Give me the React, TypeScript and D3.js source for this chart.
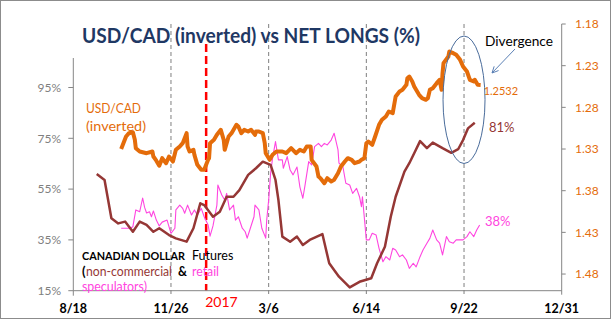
import React from "react";
import * as d3 from "d3";

const usdcadDates = [
  "2016-10-06","2016-10-11","2016-10-14","2016-10-18","2016-10-20","2016-10-21","2016-10-25","2016-11-01","2016-11-07","2016-11-08",
  "2016-11-11","2016-11-14","2016-11-17","2016-11-21","2016-11-24","2016-11-28","2016-12-01","2016-12-05","2016-12-08","2016-12-12",
  "2016-12-13","2016-12-15","2016-12-19","2016-12-20","2016-12-23","2016-12-27","2016-12-30","2017-01-03","2017-01-04","2017-01-05",
  "2017-01-09","2017-01-12","2017-01-16","2017-01-19","2017-01-20","2017-01-24","2017-01-27","2017-02-01","2017-02-03","2017-02-06",
  "2017-02-09","2017-02-13","2017-02-16","2017-02-20","2017-02-21","2017-02-24","2017-02-28","2017-03-02","2017-03-03","2017-03-07",
  "2017-03-10","2017-03-14","2017-03-20","2017-03-24","2017-03-29","2017-04-03","2017-04-07","2017-04-11","2017-04-14","2017-04-18",
  "2017-04-19","2017-04-24","2017-04-26","2017-04-28","2017-05-02","2017-05-05","2017-05-09","2017-05-12","2017-05-16","2017-05-19",
  "2017-05-23","2017-05-26","2017-05-30","2017-06-02","2017-06-07","2017-06-09","2017-06-12","2017-06-14","2017-06-16","2017-06-20",
  "2017-06-23","2017-06-27","2017-06-30","2017-07-04","2017-07-07","2017-07-11","2017-07-14","2017-07-18","2017-07-21","2017-07-25",
  "2017-07-26","2017-07-28","2017-07-31","2017-08-02","2017-08-07","2017-08-10","2017-08-14","2017-08-16","2017-08-18","2017-08-21",
  "2017-08-25","2017-08-28","2017-08-30","2017-08-31","2017-09-01","2017-09-06","2017-09-07","2017-09-11","2017-09-14","2017-09-18",
  "2017-09-21","2017-09-25","2017-09-28","2017-10-02","2017-10-03","2017-10-06","2017-10-09",
];
const usdcadValues = [
  1.330,1.315,1.311,1.310,1.319,1.329,1.333,1.335,1.333,1.339,
  1.344,1.350,1.341,1.347,1.339,1.345,1.331,1.327,1.323,1.311,
  1.327,1.333,1.331,1.337,1.349,1.355,1.355,1.343,1.341,1.323,
  1.319,1.313,1.307,1.319,1.331,1.315,1.311,1.301,1.303,1.311,
  1.307,1.309,1.307,1.313,1.309,1.309,1.311,1.323,1.335,1.343,
  1.337,1.333,1.333,1.335,1.329,1.335,1.331,1.333,1.327,1.327,
  1.343,1.351,1.363,1.365,1.371,1.365,1.369,1.367,1.359,1.351,
  1.345,1.341,1.343,1.347,1.345,1.343,1.341,1.323,1.321,1.325,
  1.315,1.301,1.295,1.291,1.285,1.287,1.267,1.261,1.259,1.253,
  1.245,1.243,1.249,1.255,1.265,1.269,1.271,1.269,1.259,1.257,
  1.251,1.247,1.259,1.239,1.227,1.219,1.213,1.215,1.217,1.223,
  1.231,1.237,1.247,1.249,1.247,1.253,1.2532,
];

const retailDates = [
  "2016-10-06","2016-10-11","2016-10-15","2016-10-18","2016-10-21","2016-10-25","2016-10-28","2016-10-30","2016-11-01","2016-11-04",
  "2016-11-06","2016-11-08","2016-11-11","2016-11-14","2016-11-17","2016-11-22","2016-11-26","2016-11-30","2016-12-01","2016-12-05",
  "2016-12-08","2016-12-10","2016-12-13","2016-12-17","2016-12-20","2016-12-23","2016-12-27","2016-12-30","2017-01-03","2017-01-05",
  "2017-01-08","2017-01-12","2017-01-13","2017-01-17","2017-01-20","2017-01-22","2017-01-25","2017-01-29","2017-01-31","2017-02-03",
  "2017-02-07","2017-02-10","2017-02-12","2017-02-15","2017-02-19","2017-02-20","2017-02-24","2017-02-27","2017-03-03","2017-03-04",
  "2017-03-06","2017-03-08","2017-03-10","2017-03-13","2017-03-16","2017-03-20","2017-03-21","2017-03-25","2017-03-28","2017-03-31",
  "2017-04-04","2017-04-07","2017-04-10","2017-04-12","2017-04-16","2017-04-19","2017-04-22","2017-04-26","2017-04-29","2017-05-02",
  "2017-05-05","2017-05-09","2017-05-12","2017-05-16","2017-05-17","2017-05-21","2017-05-24","2017-05-28","2017-05-31","2017-06-04",
  "2017-06-07","2017-06-09","2017-06-10","2017-06-14","2017-06-17","2017-06-20","2017-06-24","2017-06-27","2017-07-01","2017-07-04",
  "2017-07-08","2017-07-11","2017-07-14","2017-07-18","2017-07-21","2017-07-25","2017-07-28","2017-08-01","2017-08-04","2017-08-08",
  "2017-08-11","2017-08-15","2017-08-18","2017-08-21","2017-08-25","2017-08-28","2017-08-31","2017-09-04","2017-09-07","2017-09-11",
  "2017-09-14","2017-09-18","2017-09-21","2017-09-25","2017-09-28","2017-10-02","2017-10-05","2017-10-08",
];
const retailValues = [
  39.6,39.6,39.6,40.2,46.8,46.1,51.5,47.8,45.6,46.1,
  44.1,46.4,42.8,40.5,42.0,42.8,37.6,39.6,46.8,48.7,
  47.4,45.5,48.7,44.8,46.8,44.8,47.4,44.1,40.9,36.5,
  40.5,48.7,56.6,52.7,50.7,53.3,46.8,48.7,42.8,44.1,
  39.6,38.2,35.7,39.3,44.1,48.7,46.8,39.6,35.7,42.8,
  50.7,61.2,67.2,73.7,66.5,66.5,63.2,67.8,62.5,60.6,
  63.7,55.8,51.4,56.0,65.8,64.5,71.7,73.0,71.7,73.0,
  72.4,74.3,77.0,70.4,65.2,63.8,57.3,56.6,53.3,55.3,
  52.0,48.1,52.0,35.0,35.0,37.6,36.9,31.7,26.4,28.4,
  27.1,31.7,31.0,28.4,29.1,27.1,23.8,25.8,24.4,28.4,
  31.0,33.7,35.6,38.9,35.0,33.7,29.1,36.3,34.3,33.7,
  35.0,35.0,35.0,36.3,38.2,36.3,38.9,40.9,
];

const nonCommDates = [
  "2016-09-11","2016-09-19","2016-09-26","2016-10-03","2016-10-10","2016-10-18","2016-10-25","2016-11-01","2016-11-08","2016-11-14",
  "2016-11-24","2016-12-01","2016-12-12","2016-12-19","2016-12-26","2016-12-30","2017-01-08","2017-01-15","2017-01-22","2017-01-29",
  "2017-02-04","2017-02-13","2017-02-21","2017-02-28","2017-03-08","2017-03-13","2017-03-16","2017-03-20","2017-03-28","2017-04-04",
  "2017-04-10","2017-04-17","2017-04-30","2017-05-07","2017-05-17","2017-05-28","2017-06-07","2017-06-19","2017-06-25","2017-07-03",
  "2017-07-09","2017-07-14","2017-07-23","2017-07-28","2017-08-02","2017-08-08","2017-08-15","2017-08-21","2017-08-31","2017-09-09",
  "2017-09-16","2017-09-21","2017-09-26","2017-10-03",
];
const nonCommValues = [
  60.9,58.6,43.5,41.5,42.2,38.2,42.2,40.9,38.2,39.6,
  36.9,35.6,34.3,39.6,49.4,48.7,44.1,46.1,52.0,52.0,
  54.6,60.6,63.2,65.8,64.5,58.6,50.7,36.3,34.3,36.3,
  33.0,35.0,37.3,25.8,20.5,16.3,18.5,19.9,25.8,32.3,
  44.1,52.0,61.9,65.2,69.1,73.9,71.1,73.3,71.1,69.3,
  70.7,74.3,78.9,81.1,
];

const xTickDates = ["2016-08-18","2016-11-26","2017-03-06","2017-06-14","2017-09-22","2017-12-31"];
const leftTicks = [15, 35, 55, 75, 95];
const rightTicks = [1.18, 1.23, 1.28, 1.33, 1.38, 1.43, 1.48];

const ORANGE = "#E46C0A";
const BROWN = "#953735";
const PINK = "#FF45E0";
const NAVY = "#1F3864";
const AXIS = "#868686";
const FONT = "Lato, 'Open Sans', sans-serif";

const parse = d3.timeParse("%Y-%m-%d");

export default function App() {
  const x = d3.scaleTime()
    .domain([parse("2016-08-18")!, parse("2017-12-31")!])
    .range([73.3, 561.7]);
  const yL = d3.scaleLinear().domain([15, 95]).range([290.7, 87.5]);
  const yR = d3.scaleLinear().domain([1.18, 1.5]).range([24, 290.7]);
  const bottom = yL(15);
  const plotTop = yR(1.18);

  const usd = usdcadDates.map((d, i) => [parse(d)!, usdcadValues[i]] as [Date, number]);
  const ret = retailDates.map((d, i) => [parse(d)!, retailValues[i]] as [Date, number]);
  const nc = nonCommDates.map((d, i) => [parse(d)!, nonCommValues[i]] as [Date, number]);

  const lineR = d3.line<[Date, number]>().x(d => x(d[0])).y(d => yR(d[1]));
  const lineL = d3.line<[Date, number]>().x(d => x(d[0])).y(d => yL(d[1]));

  const fmt = d3.timeFormat("%-m/%-d");
  const xTicks = xTickDates.map(d => parse(d)!);
  const redX = x(parse("2017-01-01")!);

  const ellCx = x(parse("2017-09-22")!);
  const ellTop = 36, ellBot = 163.5;
  const ax1 = 515, ay1 = 49, ax2 = 492, ay2 = 73;
  const ang = Math.atan2(ay2 - ay1, ax2 - ax1);
  const ah = 7;
  const head = `M${ax2 - ah * Math.cos(ang - 0.45)},${ay2 - ah * Math.sin(ang - 0.45)} L${ax2},${ay2} L${ax2 - ah * Math.cos(ang + 0.45)},${ay2 - ah * Math.sin(ang + 0.45)}`;

  const last = usd[usd.length - 1];
  const lastNc = nc[nc.length - 1];

  return (
    <svg width={612} height={321} style={{ position: "absolute", left: 0, top: 0, background: "#fff" }} fontFamily={FONT}>
      <rect x={0.5} y={0.5} width={610} height={318} fill="#fff" stroke="#8c8c8c" strokeWidth={1} />

      {xTicks.slice(1, -1).map((d, i) => (
        <line key={i} x1={x(d)} x2={x(d)} y1={plotTop} y2={bottom + 4} stroke="#7f7f7f" strokeWidth={1} strokeDasharray="4,3" />
      ))}
      <line x1={redX} x2={redX} y1={44} y2={bottom} stroke="#FF0000" strokeWidth={2.5} strokeDasharray="8,4" />
      <text x={redX - 1} y={306.5} fontSize={14} fill="#FF0000">2017</text>

      <line x1={x.range()[0]} x2={x.range()[1]} y1={bottom} y2={bottom} stroke={AXIS} strokeWidth={1} />
      <line x1={x.range()[0]} x2={x.range()[0]} y1={58} y2={bottom + 5} stroke={AXIS} strokeWidth={1} />
      {leftTicks.map(t => (
        <g key={t}>
          <line x1={x.range()[0] - 5} x2={x.range()[0]} y1={yL(t)} y2={yL(t)} stroke={AXIS} />
          <text x={61} y={yL(t)} dy="0.35em" textAnchor="end" fontSize={12} fill="#7f7f7f">{t}%</text>
        </g>
      ))}
      <line x1={x.range()[1]} x2={x.range()[1]} y1={plotTop} y2={bottom + 4} stroke={AXIS} strokeWidth={1} />
      {rightTicks.map(t => (
        <g key={t}>
          <line x1={x.range()[1]} x2={x.range()[1] + 4} y1={yR(t)} y2={yR(t)} stroke={AXIS} />
          <text x={575} y={yR(t)} dy="0.35em" fontSize={12} fill={ORANGE}>{t.toFixed(2)}</text>
        </g>
      ))}
      {xTicks.map((d, i) => (
        <text key={i} x={x(d)} y={313} textAnchor="middle" fontSize={12.5} fontWeight="bold" fill="#000">{fmt(d)}</text>
      ))}

      <path d={lineL(ret) || ""} fill="none" stroke={PINK} strokeWidth={1.1} strokeLinejoin="round" />
      <path d={lineL(nc) || ""} fill="none" stroke={BROWN} strokeWidth={2.5} strokeLinejoin="round" />
      <path d={lineR(usd) || ""} fill="none" stroke={ORANGE} strokeWidth={4} strokeLinejoin="round" />

      <ellipse cx={ellCx} cy={(ellTop + ellBot) / 2} rx={21} ry={(ellBot - ellTop) / 2} fill="none" stroke="#4A6C9B" strokeWidth={1} />
      <line x1={ax1} y1={ay1} x2={ax2} y2={ay2} stroke="#5B80B5" strokeWidth={1} />
      <path d={head} fill="none" stroke="#5B80B5" strokeWidth={1} />
      <text x={485} y={45.5} fontSize={14} fill="#000" textLength={68} lengthAdjust="spacingAndGlyphs">Divergence</text>
      <text x={x(last[0]) + 3} y={yR(last[1]) + 10} fontSize={11} fill={ORANGE}>{last[1].toFixed(4)}</text>
      <text x={489} y={yL(lastNc[1]) + 9} fontSize={13} fill={BROWN}>81%</text>
      <text x={485} y={226} fontSize={13} fill={PINK}>38%</text>

      <text x={82} y={43} fontSize={21} fontWeight="bold" fill={NAVY} textLength={338} lengthAdjust="spacingAndGlyphs">USD/CAD (inverted) vs NET LONGS (%)</text>

      <text x={86} y={113} fontSize={14} fill={ORANGE} textLength={55} lengthAdjust="spacingAndGlyphs">USD/CAD</text>
      <text x={86} y={131} fontSize={14} fill={ORANGE} textLength={60} lengthAdjust="spacingAndGlyphs">(inverted)</text>

      <text x={82} y={259.5} fill="#000">
        <tspan fontSize={10.8} fontWeight="bold">CANADIAN DOLLAR</tspan>
        <tspan x={192} fontSize={12.5}>Futures</tspan>
      </text>

      <text x={82} y={276} fontSize={13} fontWeight="bold" fill="#000">(</text>
      <text x={86} y={276} fontSize={13} fill={BROWN} textLength={86} lengthAdjust="spacingAndGlyphs">non-commercial</text>
      <text x={178} y={276} fontSize={13} fontWeight="bold" fill="#000" textLength={9} lengthAdjust="spacingAndGlyphs">&amp;</text>
      <text x={192} y={276} fontSize={13} fill={PINK} textLength={27} lengthAdjust="spacingAndGlyphs">retail</text>
      <text x={82} y={291} fontSize={13} fill={PINK} textLength={65} lengthAdjust="spacingAndGlyphs">speculators)</text>
    </svg>
  );
}
